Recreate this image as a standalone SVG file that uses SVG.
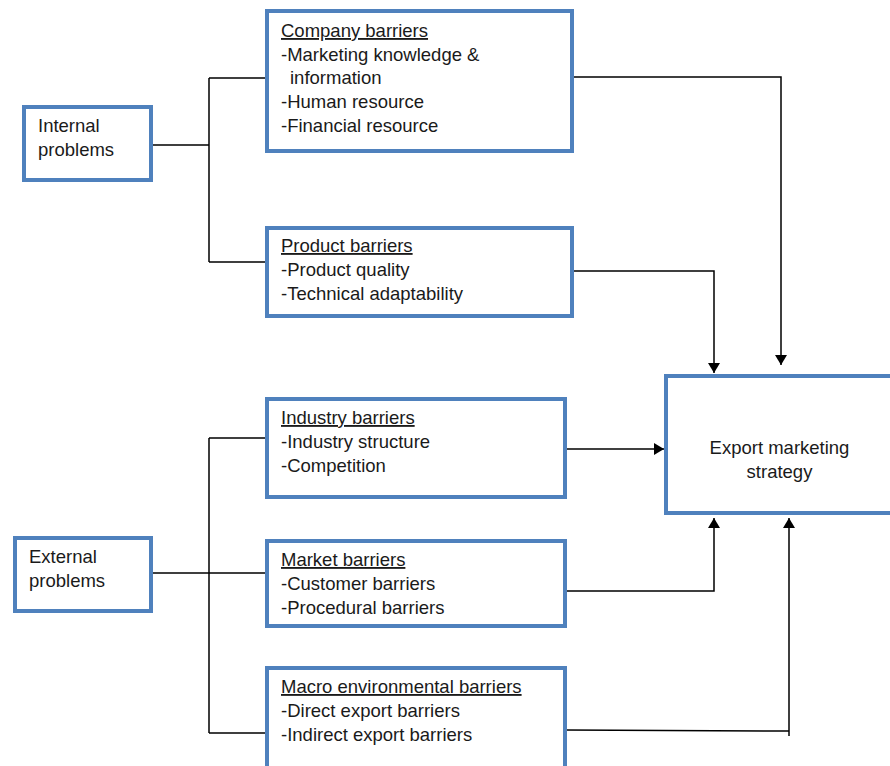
<svg xmlns="http://www.w3.org/2000/svg" width="890" height="766" viewBox="0 0 890 766">
<style>
.box{fill:#fff;stroke:#4F81BD;stroke-width:4}
.t{font-family:"Liberation Sans",Arial,sans-serif;font-size:18.5px;fill:#1a1a1a}
.u{text-decoration:underline}
.c{fill:none;stroke:#000;stroke-width:1.5}
</style>
<defs>
<marker id="ah" markerUnits="userSpaceOnUse" markerWidth="10" markerHeight="12" refX="10" refY="6" orient="auto">
<path d="M0,0 L10,6 L0,12 z" fill="#000"/>
</marker>
</defs>
<rect width="890" height="766" fill="#fff"/>
<g id="connectors">
<path class="c" d="M151,145 H209 M209,78 V262 M209,78 H267 M209,262 H267"/>
<path class="c" d="M151,573 H267 M209,438 V733 M209,438 H267 M209,733 H267"/>
<path class="c" d="M574,77 H781 V365" marker-end="url(#ah)"/>
<path class="c" d="M572,271 H714 V373" marker-end="url(#ah)"/>
<path class="c" d="M565,449 H664" marker-end="url(#ah)"/>
<path class="c" d="M565,591 H714 V518" marker-end="url(#ah)"/>
<path class="c" d="M565,730 L789,731 M789,736 V518" marker-end="url(#ah)"/>
</g>
<g id="internal">
<rect class="box" x="24" y="107" width="127" height="73"/>
<text class="t" x="38" y="132">Internal</text>
<text class="t" x="38" y="156">problems</text>
</g>
<g id="external">
<rect class="box" x="15" y="538" width="136" height="73"/>
<text class="t" x="29" y="563">External</text>
<text class="t" x="29" y="587">problems</text>
</g>
<g id="company">
<rect class="box" x="267" y="11" width="305" height="140"/>
<text class="t u" x="281" y="37">Company barriers</text>
<text class="t" x="281" y="61">-Marketing knowledge &amp;</text>
<text class="t" x="290" y="84">information</text>
<text class="t" x="281" y="108">-Human resource</text>
<text class="t" x="281" y="132">-Financial resource</text>
</g>
<g id="product">
<rect class="box" x="267" y="228" width="305" height="88"/>
<text class="t u" x="281" y="252">Product barriers</text>
<text class="t" x="281" y="276">-Product quality</text>
<text class="t" x="281" y="300">-Technical adaptability</text>
</g>
<g id="industry">
<rect class="box" x="267" y="399" width="298" height="98"/>
<text class="t u" x="281" y="424">Industry barriers</text>
<text class="t" x="281" y="448">-Industry structure</text>
<text class="t" x="281" y="472">-Competition</text>
</g>
<g id="market">
<rect class="box" x="267" y="541" width="298" height="85"/>
<text class="t u" x="281" y="566">Market barriers</text>
<text class="t" x="281" y="590">-Customer barriers</text>
<text class="t" x="281" y="614">-Procedural barriers</text>
</g>
<g id="macro">
<rect class="box" x="267" y="668" width="298" height="120"/>
<text class="t u" x="281" y="693">Macro environmental barriers</text>
<text class="t" x="281" y="717">-Direct export barriers</text>
<text class="t" x="281" y="741">-Indirect export barriers</text>
</g>
<g id="export">
<rect class="box" x="666" y="376" width="240" height="137"/>
<text class="t" x="779.5" y="454" text-anchor="middle">Export marketing</text>
<text class="t" x="779.5" y="478" text-anchor="middle">strategy</text>
</g>
</svg>
